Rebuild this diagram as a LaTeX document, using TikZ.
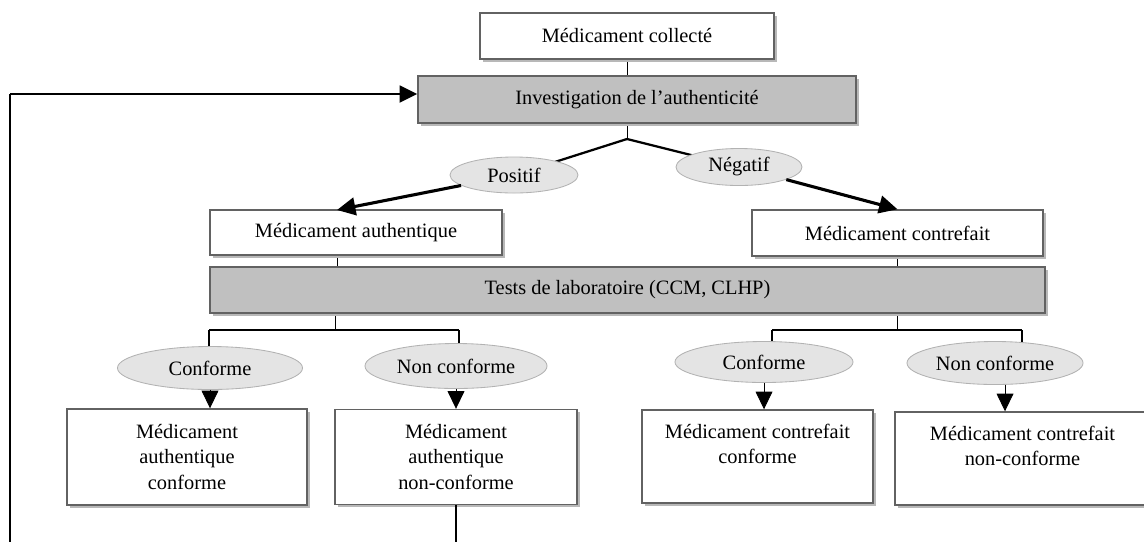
\documentclass[tikz,border=0pt]{standalone}
\usepackage{fontspec}
\setmainfont{Liberation Serif}
\usetikzlibrary{arrows.meta,calc,shapes.geometric,shadows,backgrounds}
\definecolor{flowink}{HTML}{000000}
\definecolor{flowedge}{HTML}{626262}
\definecolor{flowgray}{HTML}{C0C0C0}
\definecolor{flowoval}{HTML}{E4E4E4}
\definecolor{flowshade}{HTML}{B8B8B8}

\begin{document}
\begin{tikzpicture}[
  x=0.025cm, y=-0.025cm,
  font=\fontsize{14.5}{17.8}\selectfont,
  box/.style={draw=flowedge, fill=white, line width=1pt, align=center, inner sep=2pt,
    drop shadow={shadow xshift=0.07cm, shadow yshift=-0.07cm, fill=flowshade, opacity=1}},
  graybox/.style={box, fill=flowgray},
  oval/.style={ellipse, draw=black!30, fill=flowoval, line width=0.6pt, inner sep=0pt},
  link/.style={draw=flowink, line width=0.6pt},
  branch/.style={draw=flowink, line width=1pt},
  stub/.style={draw=flowink, line width=2pt},
  split/.style={draw=flowink, line width=1.6pt},
  flow/.style={draw=flowink, line width=2.2pt, -{Triangle[length=0.46cm,width=0.44cm]}},
  drop/.style={draw=flowink, line width=0.6pt, -{Triangle[length=0.44cm,width=0.42cm]}},
  loopback/.style={draw=flowink, line width=1.8pt, -{Triangle[length=0.44cm,width=0.42cm]}},
]
\useasboundingbox (0,0) rectangle (1144,541);
\clip (0,0) rectangle (1144,541);

% ===== collection and authenticity check =====
\node[box, minimum width=7.35cm, minimum height=1.15cm] (collect) at (627,36) {Médicament collecté};
\node[graybox, minimum width=10.95cm, minimum height=1.175cm] (invest) at (637,99.5) {Investigation de l’authenticité};

\node[oval, minimum width=3.2cm, minimum height=0.9cm] (pos) at (514,175) {Positif};
\node[oval, minimum width=3.15cm, minimum height=0.925cm] (neg) at (739,167) {Négatif};

\node[box, minimum width=7.3cm, minimum height=1.125cm] (auth) at (356,232.5) {Médicament authentique};
\node[box, minimum width=7.275cm, minimum height=1.15cm] (fake) at (897.5,233) {Médicament contrefait};

% ===== laboratory tests =====
\node[graybox, minimum width=20.875cm, minimum height=1.15cm] (tests) at (627.5,290) {Tests de laboratoire (CCM, CLHP)};

\node[oval, minimum width=4.625cm, minimum height=1.075cm] (authok) at (210,368) {Conforme};
\node[oval, minimum width=4.55cm, minimum height=1.125cm] (authnok) at (456,366) {Non conforme};
\node[oval, minimum width=4.45cm, minimum height=1.025cm] (fakeok) at (764,362) {Conforme};
\node[oval, minimum width=4.4cm, minimum height=1.075cm] (fakenok) at (995,363) {Non conforme};

% ===== outcomes =====
\node[box, minimum width=6cm, minimum height=2.4cm] (resAC) at (187,457) {Médicament\\authentique\\conforme};
\node[box, minimum width=6.05cm, minimum height=2.375cm] (resANC) at (456,457) {Médicament\\authentique\\non-conforme};
\node[box, minimum width=5.775cm, minimum height=2.325cm] (resCC) at (757.5,456.5) {Médicament contrefait\\conforme\\\mbox{}};
\node[box, minimum width=6.375cm, minimum height=2.325cm] (resCNC) at (1022.5,458.5) {Médicament contrefait\\non-conforme\\\mbox{}};

% ===== connectors =====
\coordinate (fork) at (627,139);
\coordinate (authin) at (337,210);
\coordinate (authfork) at (335,330);
\coordinate (fakefork) at (897,330);
\coordinate (s1) at (209,330);
\coordinate (s2) at (459,330);
\coordinate (s3) at (772,330);
\coordinate (s4) at (1022,330);

\begin{scope}[on background layer]
  \draw[link] (collect.south) -- (invest.north -| collect.south);
  \draw[link] (fork |- invest.south) -- (fork);
  \draw[split] (fork) -- (pos.center);
  \draw[split] (fork) -- (neg.center);
  \draw[link] (authin |- auth.south) -- (authin |- tests.north);
  \draw[link] (fake.south) -- (fake.south |- tests.north);

  % test branches
  \draw[link] (authfork |- tests.south) -- (authfork);
  \draw[link] (fakefork |- tests.south) -- (fakefork);
  \draw[branch] (s1) -- (s2);
  \draw[branch] (s3) -- (s4);
  \draw[stub] (s1) -- (s1 |- authok.center);
  \draw[stub] (s2) -- (s2 |- authnok.center);
  \draw[stub] (s3) -- (s3 |- fakeok.center);
  \draw[stub] (s4) -- (s4 |- fakenok.center);
\end{scope}

\draw[flow] (pos) -- (authin);
\draw[flow] (neg) -- (fake.north);

\draw[drop] (authok.south) -- (authok.south |- resAC.north);
\draw[drop] (authnok.south) -- (authnok.south |- resANC.north);
\draw[drop] (fakeok.south) -- (fakeok.south |- resCC.north);
\draw[drop] ($(fakenok.south)+(10,0)$) -- ($(fakenok.south |- resCNC.north)+(10,0)$);

% back to the authenticity check
\coordinate (back) at (10,94);
\draw[link, line width=1pt] (resANC.south) -- ($(resANC.south)+(0,80)$) -| (back);
\draw[loopback] (back) -- (back -| invest.west);

\end{tikzpicture}
\end{document}
